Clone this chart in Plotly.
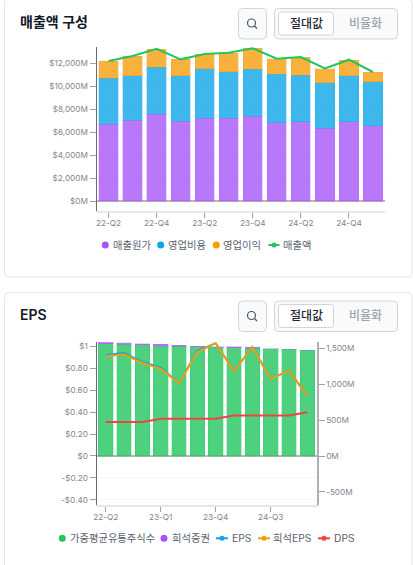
import plotly.graph_objects as go

W, H = 413, 565
FONT = "Inter, 'Noto Sans CJK KR', sans-serif"

# Revenue composition, in millions of dollars
sales_quarters = ["22-Q2", "22-Q3", "22-Q4", "23-Q1", "23-Q2", "23-Q3", "23-Q4", "24-Q1", "24-Q2", "24-Q3", "24-Q4", "25-Q1"]
sales_ticks = ["22-Q2", "22-Q4", "23-Q2", "23-Q4", "24-Q2", "24-Q4"]
cost_of_sales = [6696, 7045, 7569, 6987, 7220, 7220, 7394, 6841, 6929, 6346, 6929, 6579]
operating_expense = [4046, 3901, 4134, 3959, 4337, 4075, 4134, 4221, 4075, 3989, 4017, 3843]
operating_income = [1485, 1718, 1572, 1427, 1282, 1631, 1834, 1369, 1573, 1222, 1368, 844]
revenue = [12227, 12664, 13300, 12373, 12839, 12950, 13340, 12431, 12577, 11580, 12340, 11266]
sales_yvals = [0, 2000, 4000, 6000, 8000, 10000, 12000]
sales_ylabels = ["$0M", "$2,000M", "$4,000M", "$6,000M", "$8,000M", "$10,000M", "$12,000M"]

# Share counts (millions) and per-share figures (dollars)
eps_quarters = sales_quarters
eps_ticks = ["22-Q2", "23-Q1", "23-Q4", "24-Q3"]
weighted_shares = [1564, 1560, 1550, 1532, 1528, 1522, 1518, 1508, 1504, 1494, 1486, 1472]
dilutive_shares = [20, 20, 14, 22, 16, 10, 6, 12, 12, 3, 3, 3]
eps = [0.922, 0.941, 0.858, 0.807, 0.664, 0.959, 1.03, 0.776, 0.995, 0.706, 0.779, 0.548]
diluted_eps = [0.91, 0.928, 0.849, 0.795, 0.664, 0.947, 1.03, 0.773, 0.995, 0.703, 0.779, 0.548]
dps = [0.31, 0.31, 0.31, 0.34, 0.34, 0.34, 0.34, 0.37, 0.37, 0.37, 0.37, 0.40]
dollar_yvals = [-0.4, -0.2, 0, 0.2, 0.4, 0.6, 0.8, 1]
dollar_ylabels = ["-$0.40", "-$0.20", "$0", "$0.20", "$0.40", "$0.60", "$0.80", "$1"]
share_yvals = [-500, 0, 500, 1000, 1500]
share_ylabels = ["-500M", "0M", "500M", "1,000M", "1,500M"]

PURPLE, BLUE, ORANGE, GREEN, RED = "#a855f7", "#0ea5e9", "#f59e0b", "#22c55e", "#ef4444"
TICK_TEXT = "#7f8593"
LEGEND_TEXT = "#5b6270"


def rgba(hex_color, alpha):
    r, g, b = (int(hex_color[i:i + 2], 16) for i in (1, 3, 5))
    return f"rgba({r},{g},{b},{alpha})"


def px(x):
    return x / W


def py(y):
    return 1 - y / H


def rounded_box(x0, y0, x1, y1, r, fill, stroke, width=1, layer="below"):
    path = (
        f"M {px(x0 + r)} {py(y0)} L {px(x1 - r)} {py(y0)} Q {px(x1)} {py(y0)} {px(x1)} {py(y0 + r)} "
        f"L {px(x1)} {py(y1 - r)} Q {px(x1)} {py(y1)} {px(x1 - r)} {py(y1)} "
        f"L {px(x0 + r)} {py(y1)} Q {px(x0)} {py(y1)} {px(x0)} {py(y1 - r)} "
        f"L {px(x0)} {py(y0 + r)} Q {px(x0)} {py(y0)} {px(x0 + r)} {py(y0)} Z"
    )
    return dict(type="path", xref="paper", yref="paper", path=path, fillcolor=fill,
                line=dict(color=stroke, width=width), layer=layer)


def dot(cx, cy, color, r=3.5):
    return dict(type="circle", xref="paper", yref="paper", x0=px(cx - r), x1=px(cx + r),
                y0=py(cy + r), y1=py(cy - r), fillcolor=color, line=dict(width=0))


def dash(x0, x1, cy, color):
    return dict(type="line", xref="paper", yref="paper", x0=px(x0), x1=px(x1), y0=py(cy), y1=py(cy),
                line=dict(color=color, width=2))


def label(x, y, text, size=10.3, color=LEGEND_TEXT, anchor="left", weight=None):
    font = dict(family=FONT, size=size, color=color)
    if weight:
        font["weight"] = weight
    return dict(xref="paper", yref="paper", x=px(x), y=py(y), text=text, showarrow=False,
                xanchor=anchor, yanchor="middle", font=font, borderpad=0, borderwidth=0)


def card_header(top, title):
    """Frame, title and the two toolbar controls of one card; `top` is the card's upper edge."""
    bx = top + 8.5
    shapes = [
        rounded_box(238.5, bx, 266.5, bx + 30.5, 4, "#f9fafb", "#d1d5db"),
        rounded_box(274.5, bx, 397.5, bx + 30.5, 4, "#f9fafb", "#d1d5db"),
        rounded_box(278.5, bx + 3.5, 333.5, bx + 26.5, 3, "#ffffff", "#d1d5db"),
        dict(type="circle", xref="paper", yref="paper", x0=px(247.5), x1=px(255.5),
             y0=py(bx + 18.5), y1=py(bx + 10.5), line=dict(color="#4b5563", width=1.2)),
        dict(type="line", xref="paper", yref="paper", x0=px(254.5), x1=px(257),
             y0=py(bx + 17.5), y1=py(bx + 20), line=dict(color="#4b5563", width=1.2)),
    ]
    notes = [
        label(20, top + 22, title, size=14, color="#111827", weight=600),
        label(306, bx + 14.5, "절대값", size=12, color="#1f2937", anchor="center", weight=500),
        label(365.5, bx + 14.5, "비율화", size=12, color="#9ca3af", anchor="center", weight=500),
    ]
    return shapes, notes


fig = go.Figure()

# Stacked revenue bars with the total drawn on top
for name, values, color in [("매출원가", cost_of_sales, PURPLE), ("영업비용", operating_expense, BLUE),
                            ("영업이익", operating_income, ORANGE)]:
    fig.add_bar(x=sales_quarters, y=values, name=name, xaxis="x", yaxis="y",
                marker=dict(color=rgba(color, 0.8), line=dict(color=rgba(color, 0.25), width=1)))
fig.add_scatter(x=sales_quarters, y=revenue, name="매출액", mode="lines", xaxis="x", yaxis="y",
                line=dict(color=GREEN, width=2))

# Share bars belong to the right axis, per-share lines to the left one
for name, values, color in [("가중평균유통주식수", weighted_shares, GREEN), ("희석증권", dilutive_shares, PURPLE)]:
    fig.add_bar(x=eps_quarters, y=values, name=name, xaxis="x2", yaxis="y2",
                marker=dict(color=rgba(color, 0.8), line=dict(color=rgba(color, 0.25), width=1)))
for name, values, color in [("EPS", eps, BLUE), ("희석EPS", diluted_eps, ORANGE), ("DPS", dps, RED)]:
    fig.add_scatter(x=eps_quarters, y=values, name=name, mode="lines", xaxis="x2", yaxis="y3",
                    line=dict(color=color, width=2))

shapes = [
    rounded_box(4.5, -1, 412, 277, 4, "#ffffff", "#e5e7eb"),
    rounded_box(4.5, 292.5, 412, 580, 4, "#ffffff", "#e5e7eb"),
]
annotations = []
for top, title in [(0, "매출액 구성"), (292.5, "EPS")]:
    s, a = card_header(top, title)
    shapes += s
    annotations += a

# Hand-placed legend rows keep their round swatches
for cx, tx, text, color in [(105.3, 112.7, "매출원가", PURPLE), (160.7, 168, "영업비용", BLUE),
                            (216.3, 223.3, "영업이익", ORANGE)]:
    shapes.append(dot(cx, 245, color))
    annotations.append(label(tx, 245, text))
shapes += [dash(268.5, 279.5, 245, GREEN), dot(274, 245, GREEN, 2.5)]
annotations.append(label(283.3, 245, "매출액"))

for cx, tx, text, color in [(62.3, 69.7, "가중평균유통주식수", GREEN), (164, 171.7, "희석증권", PURPLE)]:
    shapes.append(dot(cx, 538.3, color))
    annotations.append(label(tx, 538.3, text))
for x0, x1, tx, text, color in [(216, 228, 231.7, "EPS", BLUE), (258, 270, 273.3, "희석EPS", ORANGE),
                                (318, 330, 333.7, "DPS", RED)]:
    shapes += [dash(x0, x1, 538.3, color), dot((x0 + x1) / 2, 538.3, color, 2.5)]
    annotations.append(label(tx, 538.3, text))

tick_font = dict(family=FONT, size=8.2, color=TICK_TEXT)
x_common = dict(type="category", categoryorder="array", showgrid=False, showline=True, linecolor="#e5e7eb",
                linewidth=2, ticks="outside", ticklen=5, tickcolor="#9ca3af", tickwidth=1, tickfont=tick_font,
                tickangle=0, zeroline=False, fixedrange=True, automargin=False, ticklabelstandoff=-2)
y_common = dict(showgrid=True, gridcolor="#f5f6f7", gridwidth=1, zeroline=True, zerolinecolor="#b8b8b8",
                zerolinewidth=2, showline=True, ticks="outside", ticklen=6, tickwidth=1, tickfont=tick_font,
                fixedrange=True, automargin=False)

fig.update_layout(
    width=W, height=H, autosize=False, margin=dict(l=0, r=0, t=0, b=0, pad=0, autoexpand=False),
    paper_bgcolor="#ffffff", plot_bgcolor="rgba(0,0,0,0)", showlegend=False, barmode="stack", bargap=0.2,
    font=dict(family=FONT), shapes=shapes, annotations=annotations, hovermode=False,
    xaxis=dict(domain=[px(96.5), px(385)], anchor="y", categoryarray=sales_quarters,
               tickmode="array", tickvals=sales_ticks, ticktext=sales_ticks, **x_common),
    yaxis=dict(domain=[py(211), py(47)], anchor="x", range=[-873, 13450], tickmode="array",
               tickvals=sales_yvals, ticktext=sales_ylabels, linecolor="#666b75", linewidth=1,
               tickcolor="#9ca3af", **y_common),
    xaxis2=dict(domain=[px(96.5), px(316.5)], anchor="y2", categoryarray=eps_quarters,
                tickmode="array", tickvals=eps_ticks, ticktext=eps_ticks, **x_common),
    yaxis2=dict(domain=[py(504.7), py(342.3)], anchor="x2", side="right", range=[-678, 1584], tickmode="array",
                tickvals=share_yvals, ticktext=share_ylabels, linecolor="#b0b0b0", linewidth=2,
                tickcolor="#9ca3af", **{**y_common, "showgrid": False}),
    yaxis3=dict(domain=[py(504.7), py(342.3)], anchor="x2", overlaying="y2", side="left", range=[-0.445, 1.038],
                tickmode="array", tickvals=dollar_yvals, ticktext=dollar_ylabels, linecolor="#666b75", linewidth=1,
                tickcolor="#9ca3af", **{**y_common, "zeroline": False}),
)

fig.write_html("out.html", config=dict(displayModeBar=False))
